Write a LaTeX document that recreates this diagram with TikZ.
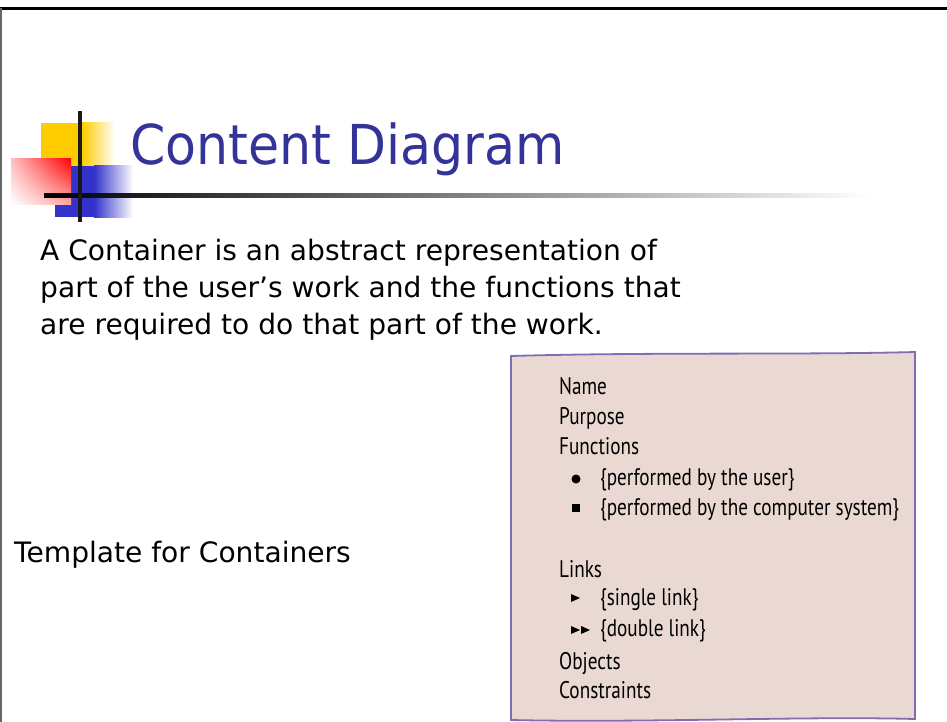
\documentclass[tikz,border=0pt]{standalone}
\usepackage{fontspec}
\setmainfont{DejaVu Sans}
\newfontfamily\titlefont[FakeStretch=0.92]{DejaVu Sans}
\newfontfamily\handfont[FakeStretch=0.8]{PT Sans}
\usetikzlibrary{positioning,shadings}

\definecolor{titleblue}{HTML}{333399}
\definecolor{logoyellow}{HTML}{FFCC00}
\definecolor{logoblue}{HTML}{3333CC}
\definecolor{cardfill}{HTML}{EAD9D2}
\definecolor{cardedge}{HTML}{7E6DB2}

\begin{document}
\begin{tikzpicture}[x=1pt,y=-1pt]
\tikzstyle{every node}+=[inner sep=0pt, anchor=base west]
\tikzstyle{body}=[font=\fontsize{28.1}{33}\selectfont]
\tikzstyle{item}=[font=\handfont\fontsize{24}{28}\selectfont]
\tikzstyle{bulletmark}=[anchor=center, fill=black]
\useasboundingbox (0,0) rectangle (947,722);
% slide frame
\draw [black, line width=3pt] (0,8.5) -- (947,8.5);
\draw [black!60, line width=1.5pt] (0.75,8) -- (0.75,722);
% logo blocks
\fill [logoyellow] (41,123) rectangle (82,167);
\shade [left color=logoyellow, right color=white] (82,123) rectangle (115,167);
\fill [logoblue] (55,166) rectangle (94,217);
\shade [left color=logoblue, right color=white] (94,166) rectangle (133,217);
\shade [upper left=red!25, upper right=red, lower left=white, lower right=red!35] (11,159) rectangle (71,204);
\shade [left color=black, right color=white] (44,194) rectangle (870,198);
\fill [black!90] (78,111) rectangle (82,222);
% title and text
\node [text=titleblue, font=\titlefont\fontsize{55}{60}\selectfont] (title) at (130,165) {Content Diagram};
\node [body] (intro1) at (40,260) {A Container is an abstract representation of};
\node [body] (intro2) at (40,297) {part of the user’s work and the functions that};
\node [body] (intro3) at (40,334) {are required to do that part of the work.};
\node [body] (caption) at (14,562) {Template for Containers};
% container card
\draw [cardedge, fill=cardfill, line width=1.8pt] (511,356) .. controls (650,352) and (800,355) .. (915,352) -- (915,719) .. controls (800,716) and (650,723) .. (511,720) -- cycle;
\node [item] (name) at (559,394) {Name};
\node [item] (purpose) at (559,424) {Purpose};
\node [item] (functions) at (559,454) {Functions};
\node [bulletmark, circle, minimum size=9pt] (dot) at (576,479) {};
\node [item] (byuser) at (600,485) {\{performed by the user\}};
\node [bulletmark, minimum size=8.5pt] (box) at (576,508) {};
\node [item] (bysystem) at (600,515) {\{performed by the computer system\}};
\node [item] (links) at (559,577) {Links};
\fill (571,594) -- (580,598) -- (571,602) -- cycle;
\node [item] (single) at (600,605) {\{single link\}};
\fill (571,626) -- (580,630) -- (571,634) -- cycle;
\fill (581,626) -- (590,630) -- (581,634) -- cycle;
\node [item] (double) at (600,636) {\{double link\}};
\node [item] (objects) at (559,669) {Objects};
\node [item] (constraints) at (559,698) {Constraints};
\end{tikzpicture}
\end{document}
